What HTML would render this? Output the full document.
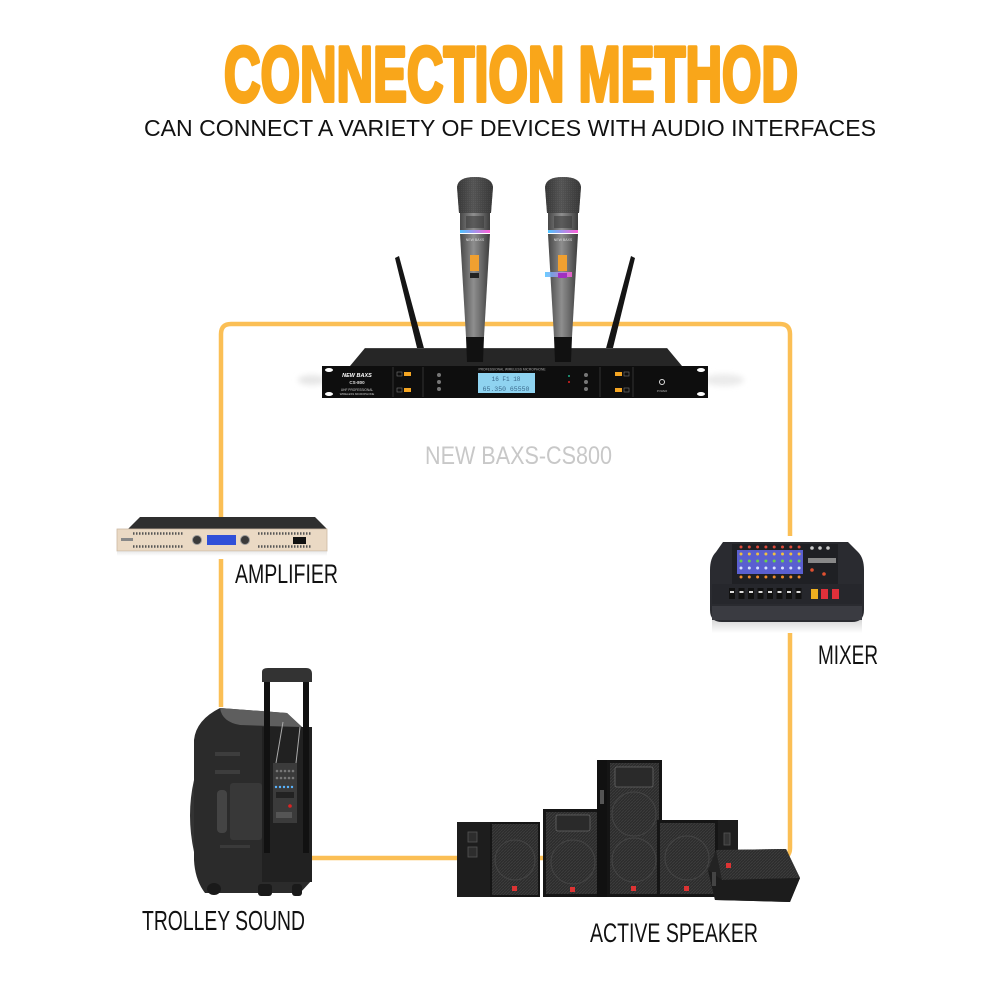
<!DOCTYPE html>
<html>
<head>
<meta charset="utf-8">
<style>
html,body{margin:0;padding:0;background:#fff;}
svg{display:block;}
</style>
</head>
<body>
<svg width="1000" height="1000" viewBox="0 0 1000 1000" xmlns="http://www.w3.org/2000/svg">
<defs>
  <linearGradient id="micBody" x1="0" y1="0" x2="1" y2="0">
    <stop offset="0" stop-color="#474747"/>
    <stop offset="0.45" stop-color="#8e8e8e"/>
    <stop offset="0.7" stop-color="#6c6c6c"/>
    <stop offset="1" stop-color="#3c3c3c"/>
  </linearGradient>
  <linearGradient id="micHead" x1="0" y1="0" x2="1" y2="0">
    <stop offset="0" stop-color="#2e2e2e"/>
    <stop offset="0.45" stop-color="#5e5e5e"/>
    <stop offset="1" stop-color="#2e2e2e"/>
  </linearGradient>
  <linearGradient id="ring" x1="0" y1="0" x2="1" y2="0">
    <stop offset="0" stop-color="#4fc3ff"/>
    <stop offset="1" stop-color="#ff5fd8"/>
  </linearGradient>
  <linearGradient id="refl" x1="0" y1="0" x2="0" y2="1">
    <stop offset="0" stop-color="#d8d8d8"/>
    <stop offset="1" stop-color="#ffffff"/>
  </linearGradient>
  <filter id="blur" x="-50%" y="-50%" width="200%" height="200%">
    <feGaussianBlur stdDeviation="3"/>
  </filter>
  <pattern id="grille" width="3" height="3" patternUnits="userSpaceOnUse">
    <rect width="3" height="3" fill="#2c2c2c"/>
    <path d="M0 3 L3 0" stroke="#3e3e3e" stroke-width="0.8"/>
  </pattern>
  <pattern id="mgrille" width="2" height="2" patternUnits="userSpaceOnUse">
    <rect width="2" height="2" fill="#454545"/>
    <rect width="1" height="1" fill="#595959"/>
  </pattern>
</defs>

<!-- Title -->
<text x="511" y="101" text-anchor="middle" font-family="Liberation Sans, sans-serif" font-weight="bold" font-size="78" fill="#f9a61a" stroke="#f9a61a" stroke-width="4" stroke-linejoin="round" textLength="574" lengthAdjust="spacingAndGlyphs">CONNECTION METHOD</text>
<text x="510" y="136" text-anchor="middle" font-family="Liberation Sans, sans-serif" font-size="23" fill="#111" textLength="732" lengthAdjust="spacingAndGlyphs">CAN CONNECT A VARIETY OF DEVICES WITH AUDIO INTERFACES</text>

<!-- Frame -->
<path d="M221 707 V334 Q221 324 231 324 H780 Q790 324 790 334 V848 Q790 858 780 858 H312" fill="none" stroke="#fbbf55" stroke-width="4.5"/>
<rect x="213" y="549" width="16" height="10" fill="#fff"/>
<rect x="782" y="536" width="16" height="97" fill="#fff"/>

<!-- Receiver reflections -->
<ellipse cx="312" cy="380" rx="14" ry="5" fill="#e6e6e6" filter="url(#blur)"/>
<ellipse cx="724" cy="380" rx="20" ry="6" fill="#ebebeb" filter="url(#blur)"/>

<!-- Antennas -->
<polygon points="395,258 399,256 425,352 418,352" fill="#151515"/>
<polygon points="631,256 635,258 612,352 605,352" fill="#151515"/>

<!-- Chassis top -->
<polygon points="350,366 365,348 667,348 682,366" fill="#262626"/>
<line x1="365" y1="348.5" x2="667" y2="348.5" stroke="#444" stroke-width="1"/>

<!-- Mics -->
<g transform="translate(475,177)">
  <path d="M-16 36 L-18 10 Q-17 0 0 0 Q17 0 18 10 L16 36 Z" fill="url(#mgrille)"/>
  <path d="M-16 36 L-18 10 Q-17 0 0 0 Q17 0 18 10 L16 36 Z" fill="url(#micHead)" opacity="0.6"/>
  <rect x="-15" y="36" width="30" height="20" fill="url(#micBody)"/>
  <rect x="-9" y="39" width="18" height="12" fill="#3a3a3a" opacity="0.6"/>
  <rect x="-15" y="53" width="30" height="3" fill="url(#ring)"/>
  <polygon points="-15,57 15,57 9,160 -9,160" fill="url(#micBody)"/>
  <text x="0" y="64" text-anchor="middle" font-family="Liberation Sans, sans-serif" font-size="3.5" fill="#ddd">NEW BAXS</text>
  <rect x="-5" y="78" width="9" height="16" fill="#f0a030"/>
  <rect x="-5" y="96" width="9" height="5" fill="#222"/>
  <polygon points="-9,160 9,160 8,185 -8,185" fill="#111"/>
</g>
<g transform="translate(563,177)">
  <path d="M-16 36 L-18 10 Q-17 0 0 0 Q17 0 18 10 L16 36 Z" fill="url(#mgrille)"/>
  <path d="M-16 36 L-18 10 Q-17 0 0 0 Q17 0 18 10 L16 36 Z" fill="url(#micHead)" opacity="0.6"/>
  <rect x="-15" y="36" width="30" height="20" fill="url(#micBody)"/>
  <rect x="-9" y="39" width="18" height="12" fill="#3a3a3a" opacity="0.6"/>
  <rect x="-15" y="53" width="30" height="3" fill="url(#ring)"/>
  <polygon points="-15,57 15,57 9,160 -9,160" fill="url(#micBody)"/>
  <text x="0" y="64" text-anchor="middle" font-family="Liberation Sans, sans-serif" font-size="3.5" fill="#ddd">NEW BAXS</text>
  <rect x="-5" y="78" width="9" height="16" fill="#f0a030"/>
  <rect x="-18" y="95" width="27" height="5" fill="url(#ring)" opacity="0.85"/>
  <rect x="-5" y="96" width="9" height="5" fill="#a030c0"/>
  <polygon points="-9,160 9,160 8,185 -8,185" fill="#111"/>
</g>

<!-- Receiver front panel -->
<rect x="322" y="366" width="386" height="32" fill="#0e0e0e"/>
<ellipse cx="329" cy="370" rx="4" ry="2" fill="#fff"/>
<ellipse cx="329" cy="394" rx="4" ry="2" fill="#fff"/>
<ellipse cx="701" cy="370" rx="4" ry="2" fill="#fff"/>
<ellipse cx="701" cy="394" rx="4" ry="2" fill="#fff"/>
<line x1="393" y1="367" x2="393" y2="397" stroke="#333" stroke-width="1"/>
<line x1="423" y1="367" x2="423" y2="397" stroke="#333" stroke-width="1"/>
<line x1="600" y1="367" x2="600" y2="397" stroke="#333" stroke-width="1"/>
<line x1="633" y1="367" x2="633" y2="397" stroke="#333" stroke-width="1"/>
<text x="357" y="377" text-anchor="middle" font-family="Liberation Sans, sans-serif" font-style="italic" font-weight="bold" font-size="5.5" fill="#fff">NEW BAXS</text>
<text x="357" y="384" text-anchor="middle" font-family="Liberation Sans, sans-serif" font-weight="bold" font-size="4.5" fill="#ddd">CS-800</text>
<text x="357" y="391" text-anchor="middle" font-family="Liberation Sans, sans-serif" font-size="3.2" fill="#ccc">UHF PROFESSIONAL</text>
<text x="357" y="395" text-anchor="middle" font-family="Liberation Sans, sans-serif" font-size="2.8" fill="#ccc">WIRELESS MICROPHONE</text>
<rect x="397" y="372" width="5" height="4" fill="none" stroke="#777" stroke-width="0.6"/>
<rect x="404" y="372" width="7" height="4" fill="#f5a623"/>
<rect x="397" y="388" width="5" height="4" fill="none" stroke="#777" stroke-width="0.6"/>
<rect x="404" y="388" width="7" height="4" fill="#f5a623"/>
<circle cx="439" cy="375" r="2" fill="#777"/>
<circle cx="439" cy="382" r="2" fill="#777"/>
<circle cx="439" cy="389" r="2" fill="#777"/>
<text x="512" y="370.5" text-anchor="middle" font-family="Liberation Sans, sans-serif" font-size="3.3" fill="#aaa">PROFESSIONAL WIRELESS MICROPHONE</text>
<rect x="478" y="373" width="57" height="20" fill="#8fd3f0"/>
<text x="506" y="381" text-anchor="middle" font-family="Liberation Mono, monospace" font-size="6" fill="#3b6a8c">  16  F1 18</text>
<text x="506" y="391" text-anchor="middle" font-family="Liberation Mono, monospace" font-size="6.5" fill="#3b6a8c">65.350 65550</text>
<circle cx="569" cy="376" r="1" fill="#2a8"/>
<circle cx="569" cy="382" r="1" fill="#d22"/>
<circle cx="586" cy="375" r="2" fill="#777"/>
<circle cx="586" cy="382" r="2" fill="#777"/>
<circle cx="586" cy="389" r="2" fill="#777"/>
<rect x="615" y="372" width="7" height="4" fill="#f5a623"/>
<rect x="624" y="372" width="5" height="4" fill="none" stroke="#777" stroke-width="0.6"/>
<rect x="615" y="388" width="7" height="4" fill="#f5a623"/>
<rect x="624" y="388" width="5" height="4" fill="none" stroke="#777" stroke-width="0.6"/>
<circle cx="662" cy="382" r="2.5" fill="none" stroke="#ddd" stroke-width="1"/>
<text x="662" y="392" text-anchor="middle" font-family="Liberation Sans, sans-serif" font-size="2.8" fill="#aaa">POWER</text>

<!-- Model label -->
<text x="425" y="464" font-family="Liberation Sans, sans-serif" font-size="25" fill="#c8c8c8" textLength="187" lengthAdjust="spacingAndGlyphs">NEW BAXS-CS800</text>

<!-- Amplifier -->
<polygon points="128,529 140,517 315,517 327,529" fill="#2f2f2f"/>
<rect x="117" y="529" width="210" height="22" fill="#ead9c4" stroke="#cdb9a3" stroke-width="0.8"/>
<line x1="133" y1="533.5" x2="184" y2="533.5" stroke="#555" stroke-width="2.5" stroke-dasharray="1.5 1.5"/>
<line x1="133" y1="546.5" x2="184" y2="546.5" stroke="#555" stroke-width="2.5" stroke-dasharray="1.5 1.5"/>
<line x1="258" y1="533.5" x2="312" y2="533.5" stroke="#555" stroke-width="2.5" stroke-dasharray="1.5 1.5"/>
<line x1="258" y1="546.5" x2="312" y2="546.5" stroke="#555" stroke-width="2.5" stroke-dasharray="1.5 1.5"/>
<circle cx="197" cy="540" r="4.5" fill="#3a3a3a" stroke="#999" stroke-width="1"/>
<circle cx="245" cy="540" r="4.5" fill="#3a3a3a" stroke="#999" stroke-width="1"/>
<rect x="207" y="535" width="29" height="10" fill="#3050d8"/>
<rect x="293" y="537" width="13" height="7" fill="#111"/>
<rect x="121" y="538" width="12" height="3" fill="#888"/>
<rect x="117" y="551" width="210" height="5" fill="url(#refl)" opacity="0.6"/>

<text x="235" y="583" font-family="Liberation Sans, sans-serif" font-size="27" fill="#111" textLength="103" lengthAdjust="spacingAndGlyphs">AMPLIFIER</text>

<!-- Mixer -->
<rect x="712" y="620" width="150" height="13" fill="url(#refl)"/>
<path d="M723 542 H848 L858 552 Q864 558 864 570 V610 Q864 622 852 622 H722 Q710 622 710 610 V570 Q710 558 716 552 Z" fill="#2a2b30"/>
<rect x="732" y="544" width="106" height="40" fill="#1f2024"/>
<rect x="737" y="550" width="66" height="24" fill="#5a5fd0"/>
<g>
  <circle cx="741" cy="547" r="1.5" fill="#e04a3a"/><circle cx="749.3" cy="547" r="1.5" fill="#e04a3a"/><circle cx="757.6" cy="547" r="1.5" fill="#e04a3a"/><circle cx="765.9" cy="547" r="1.5" fill="#e04a3a"/><circle cx="774.2" cy="547" r="1.5" fill="#e04a3a"/><circle cx="782.5" cy="547" r="1.5" fill="#e04a3a"/><circle cx="790.8" cy="547" r="1.5" fill="#e04a3a"/><circle cx="799.1" cy="547" r="1.5" fill="#e04a3a"/>
  <circle cx="741" cy="554" r="1.5" fill="#f0c040"/><circle cx="749.3" cy="554" r="1.5" fill="#f0c040"/><circle cx="757.6" cy="554" r="1.5" fill="#f0c040"/><circle cx="765.9" cy="554" r="1.5" fill="#f0c040"/><circle cx="774.2" cy="554" r="1.5" fill="#f0c040"/><circle cx="782.5" cy="554" r="1.5" fill="#f0c040"/><circle cx="790.8" cy="554" r="1.5" fill="#f0c040"/><circle cx="799.1" cy="554" r="1.5" fill="#f0c040"/>
  <circle cx="741" cy="561" r="1.5" fill="#6ad04a"/><circle cx="749.3" cy="561" r="1.5" fill="#6ad04a"/><circle cx="757.6" cy="561" r="1.5" fill="#6ad04a"/><circle cx="765.9" cy="561" r="1.5" fill="#6ad04a"/><circle cx="774.2" cy="561" r="1.5" fill="#6ad04a"/><circle cx="782.5" cy="561" r="1.5" fill="#6ad04a"/><circle cx="790.8" cy="561" r="1.5" fill="#6ad04a"/><circle cx="799.1" cy="561" r="1.5" fill="#6ad04a"/>
  <circle cx="741" cy="568" r="1.5" fill="#d8e0ff"/><circle cx="749.3" cy="568" r="1.5" fill="#d8e0ff"/><circle cx="757.6" cy="568" r="1.5" fill="#d8e0ff"/><circle cx="765.9" cy="568" r="1.5" fill="#d8e0ff"/><circle cx="774.2" cy="568" r="1.5" fill="#d8e0ff"/><circle cx="782.5" cy="568" r="1.5" fill="#d8e0ff"/><circle cx="790.8" cy="568" r="1.5" fill="#d8e0ff"/><circle cx="799.1" cy="568" r="1.5" fill="#d8e0ff"/>
  <circle cx="741" cy="577" r="1.5" fill="#f08a30"/><circle cx="749.3" cy="577" r="1.5" fill="#f08a30"/><circle cx="757.6" cy="577" r="1.5" fill="#f08a30"/><circle cx="765.9" cy="577" r="1.5" fill="#f08a30"/><circle cx="774.2" cy="577" r="1.5" fill="#f08a30"/><circle cx="782.5" cy="577" r="1.5" fill="#f08a30"/><circle cx="790.8" cy="577" r="1.5" fill="#f08a30"/><circle cx="799.1" cy="577" r="1.5" fill="#f08a30"/>
</g>
<rect x="808" y="558" width="28" height="5" fill="#888"/>
<circle cx="812" cy="548" r="1.8" fill="#ccc"/><circle cx="820" cy="548" r="1.8" fill="#ccc"/><circle cx="828" cy="548" r="1.8" fill="#ccc"/>
<circle cx="812" cy="570" r="1.8" fill="#e05030"/><circle cx="824" cy="574" r="1.8" fill="#e05030"/>
<rect x="712" y="584" width="150" height="20" fill="#26272c"/>
<g fill="#111">
  <rect x="729" y="588" width="6" height="11"/><rect x="738.5" y="588" width="6" height="11"/><rect x="748" y="588" width="6" height="11"/><rect x="757.5" y="588" width="6" height="11"/><rect x="767" y="588" width="6" height="11"/><rect x="776.5" y="588" width="6" height="11"/><rect x="786" y="588" width="6" height="11"/><rect x="795.5" y="588" width="6" height="11"/>
</g>
<g fill="#ddd">
  <rect x="730" y="591" width="4" height="2"/><rect x="739.5" y="591" width="4" height="2"/><rect x="749" y="591" width="4" height="2"/><rect x="758.5" y="591" width="4" height="2"/><rect x="768" y="591" width="4" height="2"/><rect x="777.5" y="591" width="4" height="2"/><rect x="787" y="591" width="4" height="2"/><rect x="796.5" y="591" width="4" height="2"/>
</g>
<rect x="811" y="589" width="7" height="10" fill="#f0b020"/>
<rect x="821" y="589" width="7" height="10" fill="#e0303a"/>
<rect x="832" y="589" width="7" height="10" fill="#e0303a"/>
<rect x="712" y="606" width="150" height="14" fill="#3a3b41"/>

<text x="818" y="664" font-family="Liberation Sans, sans-serif" font-size="27" fill="#111" textLength="60" lengthAdjust="spacingAndGlyphs">MIXER</text>

<!-- Trolley -->
<path d="M220 708 L287 713 L302 727 L312 735 V880 L300 893 H205 Q195 880 194 860 V740 Q196 720 220 708 Z" fill="#2b2b2b"/>
<path d="M194 780 Q186 815 194 852 Z" fill="#333"/>
<path d="M220 708 L287 713 L302 727 L240 725 Q222 722 220 708 Z" fill="#5e5e5e"/>
<rect x="262" y="727" width="50" height="155" fill="#212121"/>
<rect x="215" y="752" width="25" height="4" fill="#3d3d3d"/>
<rect x="215" y="770" width="25" height="4" fill="#3d3d3d"/>
<rect x="230" y="783" width="32" height="57" rx="3" fill="#383838"/>
<rect x="217" y="790" width="10" height="43" rx="4" fill="#444"/>
<rect x="220" y="845" width="30" height="3" fill="#3a3a3a"/>
<rect x="264" y="675" width="6" height="178" fill="#111"/>
<rect x="303" y="675" width="6" height="178" fill="#111"/>
<path d="M262 682 V672 Q262 668 268 668 H306 Q312 668 312 674 V682 Z" fill="#333"/>
<line x1="283" y1="722" x2="276" y2="763" stroke="#aaa" stroke-width="1"/>
<line x1="300" y1="727" x2="296" y2="763" stroke="#aaa" stroke-width="1"/>
<rect x="273" y="763" width="24" height="60" fill="#3b3b3b"/>
<g fill="#777"><circle cx="277" cy="771" r="1.3"/><circle cx="281" cy="771" r="1.3"/><circle cx="285" cy="771" r="1.3"/><circle cx="289" cy="771" r="1.3"/><circle cx="293" cy="771" r="1.3"/>
<circle cx="277" cy="778" r="1.3"/><circle cx="281" cy="778" r="1.3"/><circle cx="285" cy="778" r="1.3"/><circle cx="289" cy="778" r="1.3"/><circle cx="293" cy="778" r="1.3"/></g>
<g fill="#5ab4ff"><circle cx="276" cy="787" r="1.2"/><circle cx="280" cy="787" r="1.2"/><circle cx="284" cy="787" r="1.2"/><circle cx="288" cy="787" r="1.2"/><circle cx="292" cy="787" r="1.2"/></g>
<rect x="276" y="792" width="18" height="6" fill="#222"/>
<circle cx="290" cy="806" r="1.8" fill="#d22"/>
<rect x="276" y="812" width="16" height="6" fill="#555"/>
<ellipse cx="214" cy="889" rx="7" ry="6" fill="#1a1a1a"/>
<rect x="258" y="884" width="14" height="12" rx="3" fill="#1a1a1a"/>
<rect x="292" y="884" width="10" height="12" rx="3" fill="#1a1a1a"/>

<text x="142" y="930" font-family="Liberation Sans, sans-serif" font-size="28" fill="#111" textLength="163" lengthAdjust="spacingAndGlyphs">TROLLEY SOUND</text>

<!-- Speakers -->
<rect x="457" y="822" width="33" height="75" fill="#1d1d1d"/>
<rect x="468" y="832" width="9" height="10" fill="#2d2d2d" stroke="#555" stroke-width="0.8"/>
<rect x="468" y="847" width="9" height="10" fill="#2d2d2d" stroke="#555" stroke-width="0.8"/>
<rect x="490" y="822" width="50" height="75" fill="#151515"/>
<rect x="492" y="824" width="46" height="71" fill="url(#grille)"/>
<circle cx="515" cy="860" r="20" fill="none" stroke="#444" stroke-width="1"/>
<rect x="512" y="886" width="5" height="5" fill="#d33"/>

<rect x="543" y="809" width="60" height="88" fill="#151515"/>
<rect x="546" y="812" width="54" height="82" fill="url(#grille)"/>
<rect x="556" y="815" width="34" height="16" rx="2" fill="#2a2a2a" stroke="#666" stroke-width="0.8"/>
<circle cx="573" cy="862" r="22" fill="none" stroke="#444" stroke-width="1"/>
<rect x="570" y="887" width="5" height="5" fill="#d33"/>

<rect x="597" y="760" width="10" height="137" fill="#111"/>
<rect x="600" y="790" width="4" height="14" fill="#555"/>
<rect x="607" y="760" width="55" height="137" fill="#151515"/>
<rect x="610" y="763" width="49" height="131" fill="url(#grille)"/>
<rect x="615" y="767" width="38" height="20" rx="2" fill="#2a2a2a" stroke="#666" stroke-width="0.8"/>
<circle cx="634" cy="814" r="22" fill="none" stroke="#444" stroke-width="1"/>
<circle cx="634" cy="860" r="22" fill="none" stroke="#444" stroke-width="1"/>
<rect x="631" y="886" width="5" height="5" fill="#d33"/>

<rect x="718" y="820" width="20" height="77" fill="#1d1d1d"/>
<rect x="724" y="833" width="6" height="12" fill="#333" stroke="#555" stroke-width="0.8"/>
<rect x="657" y="820" width="61" height="77" fill="#151515"/>
<rect x="660" y="823" width="55" height="71" fill="url(#grille)"/>
<circle cx="687" cy="858" r="22" fill="none" stroke="#444" stroke-width="1"/>
<rect x="684" y="886" width="5" height="5" fill="#d33"/>

<polygon points="716,850 786,849 800,878 790,902 715,900 708,870" fill="#232323"/>
<polygon points="716,850 786,849 800,878 722,880" fill="url(#grille)"/>
<polygon points="708,870 722,880 800,878 790,902 715,900" fill="#1c1c1c"/>
<rect x="726" y="863" width="5" height="5" fill="#d33"/>
<rect x="712" y="872" width="4" height="14" fill="#444"/>

<text x="590" y="942" font-family="Liberation Sans, sans-serif" font-size="27" fill="#111" textLength="168" lengthAdjust="spacingAndGlyphs">ACTIVE SPEAKER</text>
</svg>
</body>
</html>
